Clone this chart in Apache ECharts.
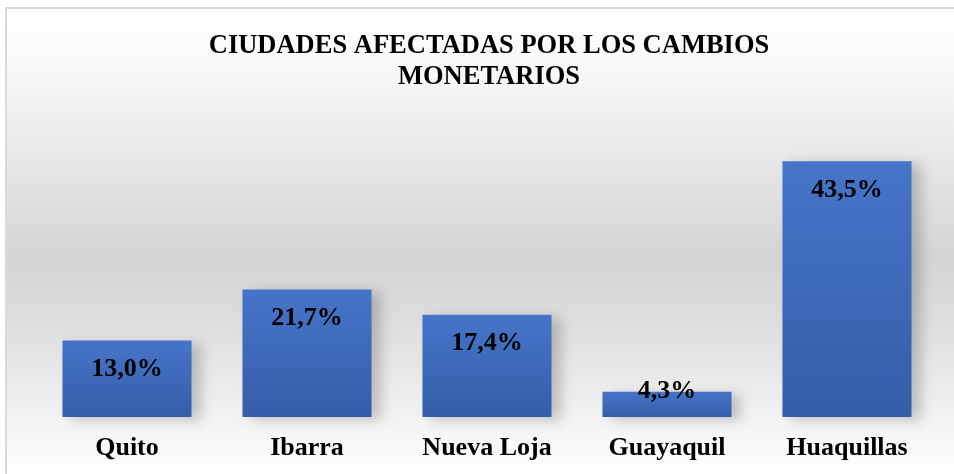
<!DOCTYPE html>
<html>
<head>
<meta charset="utf-8">
<script src="https://cdn.jsdelivr.net/npm/echarts@6/dist/echarts.min.js"></script>
<style>
  html, body { margin: 0; padding: 0; background: #ffffff; }
  #frame {
    position: absolute; left: 5px; top: 7px; width: 949px; height: 467px;
    border-top: 2px solid #d9d9d9; border-left: 2px solid #d9d9d9;
    background: linear-gradient(to bottom, #ffffff 0%, #f7f7f7 15%, #e2e2e2 38%, #d5d5d5 53%, #dcdcdc 65%, #f0f0f0 85%, #ffffff 100%);
  }
  #chart { position: absolute; left: 0; top: 0; width: 954px; height: 474px; }
</style>
</head>
<body>
<div id="frame"></div>
<div id="chart"></div>
<script>
// datos del gráfico
const titleLines = ['CIUDADES AFECTADAS POR LOS CAMBIOS', 'MONETARIOS'];
const cities = ['Quito', 'Ibarra', 'Nueva Loja', 'Guayaquil', 'Huaquillas'];
const percents = [13.0, 21.7, 17.4, 4.3, 43.5];

const serif = '"Liberation Serif", "Times New Roman", serif';

const chart = echarts.init(document.getElementById('chart'), null, { renderer: 'canvas' });

// la barra más baja no tiene espacio: la etiqueta se centra en el borde superior
const barData = percents.map(function (v) {
  const item = { value: v };
  if (v < 8) {
    item.label = { position: 'top', distance: 0, offset: [0, 13] };
  }
  return item;
});

chart.setOption({
  backgroundColor: 'transparent',
  animation: false,
  title: {
    text: titleLines.join('\n'),
    // en el original el título queda algo a la derecha del centro
    left: 489,
    textAlign: 'center',
    top: 31,
    padding: 0,
    textStyle: {
      fontFamily: serif,
      fontWeight: 'bold',
      fontSize: 26.5,
      lineHeight: 31,
      color: '#000000'
    }
  },
  grid: { left: 37, right: 17, top: 123, bottom: 57 },
  xAxis: {
    type: 'category',
    data: cities,
    axisLine: { show: false },
    axisTick: { show: false },
    axisLabel: {
      margin: 18,
      fontFamily: serif,
      fontWeight: 'bold',
      fontSize: 26,
      color: '#000000'
    }
  },
  yAxis: {
    type: 'value',
    min: 0,
    max: 50,
    show: false,
    splitLine: { show: false }
  },
  series: [{
    type: 'bar',
    data: barData,
    barWidth: '71.7%',
    itemStyle: {
      color: new echarts.graphic.LinearGradient(0, 0, 0, 1, [
        { offset: 0, color: '#4674c9' },
        { offset: 1, color: '#345ea8' }
      ]),
      shadowColor: 'rgba(0,0,0,0.2)',
      shadowBlur: 12,
      shadowOffsetX: 9,
      shadowOffsetY: 3
    },
    label: {
      show: true,
      position: 'insideTop',
      distance: 16,
      fontFamily: serif,
      fontWeight: 'bold',
      fontSize: 26,
      color: '#000000',
      formatter: function (p) {
        return p.value.toFixed(1).replace('.', ',') + '%';
      }
    }
  }]
});
</script>
</body>
</html>
